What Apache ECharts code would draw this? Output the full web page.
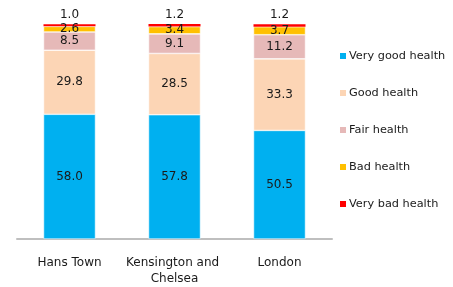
<!DOCTYPE html>
<html><head><meta charset="utf-8">
<script src="https://cdn.jsdelivr.net/npm/echarts@6/dist/echarts.min.js"></script>
<style>html,body{margin:0;padding:0;background:#fff}#c{width:453px;height:287px}</style>
</head><body><div id="c"></div>
<script>
const categories = ['Hans Town', 'Kensington and Chelsea', 'London'];
const veryGood = [58.0, 57.8, 50.5];
const good = [29.8, 28.5, 33.3];
const fair = [8.5, 9.1, 11.2];
const bad = [2.6, 3.4, 3.7];
const veryBad = [1.0, 1.2, 1.2];
const seriesNames = ['Very good health', 'Good health', 'Fair health', 'Bad health', 'Very bad health'];
const colors = ['#00B0F0', '#FCD5B5', '#E6B9B8', '#FFC000', '#FF0000'];
const FONT = '"DejaVu Sans", Verdana, sans-serif';

const dataSets = [veryGood, good, fair, bad, veryBad];
const series = dataSets.map((d, i) => ({
  name: seriesNames[i],
  type: 'bar',
  stack: 'total',
  barWidth: 52,
  data: d,
  itemStyle: { color: colors[i], borderColor: 'rgba(255,255,255,0.9)', borderWidth: i === 4 ? 0 : 0.6 },
  label: {
    show: true,
    position: i === 4 ? 'top' : 'inside',
    distance: 3,
    formatter: p => p.value.toFixed(1),
    color: '#1a1a1a',
    fontFamily: FONT,
    fontSize: 12
  }
}));

const chart = echarts.init(document.getElementById('c'), null, { renderer: 'canvas' });
chart.setOption({
  animation: false,
  grid: { left: 17, right: 121, top: 24, bottom: 44 },
  legend: {
    orient: 'vertical',
    left: 340,
    top: 50,
    padding: 0,
    itemWidth: 6,
    itemHeight: 6,
    itemGap: 25,
    icon: 'rect',
    itemStyle: { borderWidth: 0 },
    textStyle: { fontFamily: FONT, fontSize: 11.3, color: '#1a1a1a', lineHeight: 12, padding: [0, 0, 0, -2] },
    data: seriesNames
  },
  xAxis: {
    type: 'category',
    data: categories,
    axisLine: { lineStyle: { color: '#BFBFBF', width: 2 } },
    axisTick: { show: false },
    axisLabel: { fontFamily: FONT, fontSize: 12, color: '#1a1a1a', margin: 16, lineHeight: 16, width: 100, overflow: 'break', interval: 0 }
  },
  yAxis: { type: 'value', min: 0, max: 100, show: false, splitLine: { show: false } },
  series: series
});
</script>
</body></html>
